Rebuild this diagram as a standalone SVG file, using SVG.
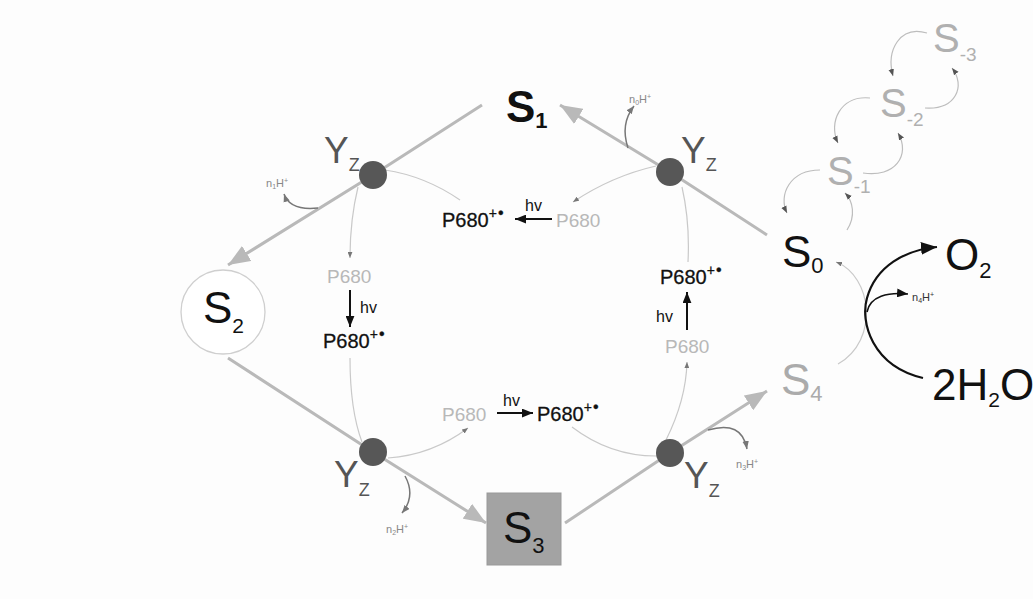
<svg xmlns="http://www.w3.org/2000/svg" width="1033" height="599" viewBox="0 0 1033 599">
<style>
text{font-family:"Liberation Sans",Arial,sans-serif}
.main{stroke:#b9b9b9;stroke-width:3;fill:none}
.thin{stroke:#c9c9c9;stroke-width:1.2;fill:none}
.hv{stroke:#111;stroke-width:2;fill:none}
.nh{stroke:#777;stroke-width:1.5;fill:none}
.sm{stroke:#bdbdbd;stroke-width:1.2;fill:none}
.dot{fill:#575757}
.yz{fill:#555;font-size:37px}
.p{fill:#b8b8b8;font-size:19px}
.pb{fill:#111;font-size:20px;stroke:#111;stroke-width:0.3}
.hvt{fill:#111;font-size:16px}
.nht{fill:#888;font-size:11px}
.s{fill:#111;font-size:44px}
.sg{fill:#b0b0b0;font-size:40px}
</style>
<defs>
<marker id="big" viewBox="0 0 20 16" refX="20" refY="8" markerWidth="22" markerHeight="18" markerUnits="userSpaceOnUse" orient="auto"><path d="M0,0 L20,8 L0,16 Z" fill="#b9b9b9"/></marker>
<marker id="tiny" viewBox="0 0 10 8" refX="10" refY="4" markerWidth="6" markerHeight="5" markerUnits="userSpaceOnUse" orient="auto"><path d="M0,0 L10,4 L0,8 Z" fill="#777"/></marker>
<marker id="blk" viewBox="0 0 10 8" refX="10" refY="4" markerWidth="11" markerHeight="9" markerUnits="userSpaceOnUse" orient="auto"><path d="M0,0 L10,4 L0,8 Z" fill="#111"/></marker>
<marker id="blkbig" viewBox="0 0 10 8" refX="10" refY="4" markerWidth="16" markerHeight="13" markerUnits="userSpaceOnUse" orient="auto"><path d="M0,0 L10,4 L0,8 Z" fill="#111"/></marker>
<marker id="nha" viewBox="0 0 10 8" refX="10" refY="4" markerWidth="8" markerHeight="7" markerUnits="userSpaceOnUse" orient="auto"><path d="M0,0 L10,4 L0,8 Z" fill="#777"/></marker>
<marker id="sma" viewBox="0 0 10 8" refX="10" refY="4" markerWidth="7" markerHeight="6" markerUnits="userSpaceOnUse" orient="auto"><path d="M0,0 L10,4 L0,8 Z" fill="#555"/></marker>
</defs>
<rect width="1033" height="599" fill="#fdfdfd"/>

<g id="connectors">
<path class="main" d="M767,235 L670,172 L560,105" marker-end="url(#big)"/>
<path class="main" d="M482,105 L373,175 L228,265" marker-end="url(#big)"/>
<path class="main" d="M228,358 L373,452 L486,523" marker-end="url(#big)"/>
<path class="main" d="M565,523 L670,453 L767,391" marker-end="url(#big)"/>
<path class="thin" d="M385,170 Q425,176 460,200"/>
<path class="thin" d="M358,187 Q350,220 350,258" marker-end="url(#tiny)"/>
<path class="thin" d="M656,166 Q612,176 573,202" marker-end="url(#tiny)"/>
<path class="thin" d="M682,187 Q690,222 688,262"/>
<path class="thin" d="M350,358 Q350,410 362,442"/>
<path class="thin" d="M388,458 Q432,455 468,428" marker-end="url(#tiny)"/>
<path class="thin" d="M666,440 Q686,400 687,362" marker-end="url(#tiny)"/>
<path class="thin" d="M572,427 Q610,456 656,456"/>
<path class="hv" d="M552,219 L515,219" marker-end="url(#blk)"/>
<path class="hv" d="M350,290 L350,327" marker-end="url(#blk)"/>
<path class="hv" d="M497,413 L533,413" marker-end="url(#blk)"/>
<path class="hv" d="M687,330 L687,292" marker-end="url(#blk)"/>
<path class="nh" d="M318,208 Q290,211 284,194" marker-end="url(#nha)"/>
<path class="nh" d="M628,148 Q620,124 634,106" marker-end="url(#nha)"/>
<path class="nh" d="M405,476 Q416,496 402,513" marker-end="url(#nha)"/>
<path class="nh" d="M708,430 Q742,420 747,449" marker-end="url(#nha)"/>
<path class="thin" d="M838,364 C880,340 872,276 836,262" marker-end="url(#tiny)"/>
<path stroke="#111" stroke-width="2.2" fill="none" d="M923,378 C872,366 860,322 867,298 C876,266 905,250 937,247" marker-end="url(#blkbig)"/>
<path stroke="#111" stroke-width="1.6" fill="none" d="M867,312 C870,296 888,292 908,294" marker-end="url(#blk)"/>
<path class="sm" d="M927,33 C900,25 886,50 893,76" marker-end="url(#sma)"/>
<path class="sm" d="M925,108 C956,110 966,86 952,68" marker-end="url(#sma)"/>
<path class="sm" d="M870,98 C840,95 828,123 838,143" marker-end="url(#sma)"/>
<path class="sm" d="M863,173 C895,178 911,155 898,133" marker-end="url(#sma)"/>
<path class="sm" d="M820,170 C790,170 778,195 787,213" marker-end="url(#sma)"/>
<path class="sm" d="M847,230 C856,216 853,201 845,193" marker-end="url(#sma)"/>
</g>

<g id="S1"><text class="s" x="506" y="122" font-weight="bold" font-size="46">S<tspan font-size="22" dy="6">1</tspan></text></g>
<g id="S2"><circle cx="223" cy="312" r="42" fill="#fff" stroke="#cfcfcf" stroke-width="1.3"/><text class="s" x="203" y="323" font-size="42">S<tspan font-size="21" dy="10">2</tspan></text></g>
<g id="S3"><rect x="487" y="493" width="74" height="72" fill="#a3a3a3" stroke="#999" stroke-width="1"/><text class="s" x="503" y="543" font-size="45">S<tspan font-size="22" dy="10">3</tspan></text></g>
<g id="S4"><text class="s" x="781" y="395" style="fill:#ababab">S<tspan font-size="22" dy="6">4</tspan></text></g>
<g id="S0"><text class="s" x="782" y="267" font-size="45">S<tspan font-size="22" dy="6">0</tspan></text></g>
<g id="Sm1"><text class="sg" x="827" y="185">S<tspan font-size="19" dy="8">-1</tspan></text></g>
<g id="Sm2"><text class="sg" x="880" y="117">S<tspan font-size="19" dy="9">-2</tspan></text></g>
<g id="Sm3"><text class="sg" x="933" y="52">S<tspan font-size="19" dy="9">-3</tspan></text></g>

<g id="Yz-TL"><circle class="dot" cx="373" cy="175" r="14"/><text class="yz" x="324" y="163">Y<tspan font-size="18" dy="8">Z</tspan></text></g>
<g id="Yz-TR"><circle class="dot" cx="670" cy="172" r="14"/><text class="yz" x="681" y="163">Y<tspan font-size="18" dy="8">Z</tspan></text></g>
<g id="Yz-BL"><circle class="dot" cx="373" cy="452" r="14"/><text class="yz" x="334" y="487">Y<tspan font-size="18" dy="9">Z</tspan></text></g>
<g id="Yz-BR"><circle class="dot" cx="670" cy="453" r="14"/><text class="yz" x="684" y="488">Y<tspan font-size="18" dy="9">Z</tspan></text></g>

<g id="P680-top">
<text class="pb" x="442" y="227">P680<tspan font-size="14" dy="-9">+</tspan><tspan font-size="16" dx="1">•</tspan></text>
<text class="hvt" x="525" y="211">hv</text>
<text class="p" x="556" y="227">P680</text>
</g>
<g id="P680-left">
<text class="p" x="327" y="283">P680</text>
<text class="hvt" x="360" y="313">hv</text>
<text class="pb" x="323" y="348">P680<tspan font-size="14" dy="-9">+</tspan><tspan font-size="16" dx="1">•</tspan></text>
</g>
<g id="P680-bottom">
<text class="p" x="442" y="421">P680</text>
<text class="hvt" x="503" y="406">hv</text>
<text class="pb" x="537" y="421">P680<tspan font-size="14" dy="-9">+</tspan><tspan font-size="16" dx="1">•</tspan></text>
</g>
<g id="P680-right">
<text class="pb" x="660" y="284">P680<tspan font-size="14" dy="-9">+</tspan><tspan font-size="16" dx="1">•</tspan></text>
<text class="hvt" x="656" y="322">hv</text>
<text class="p" x="665" y="353">P680</text>
</g>

<g id="protons">
<text class="nht" x="266" y="187">n<tspan font-size="7" dy="2">1</tspan><tspan dy="-2">H</tspan><tspan font-size="7" dy="-4">+</tspan></text>
<text class="nht" x="629" y="103">n<tspan font-size="7" dy="2">0</tspan><tspan dy="-2">H</tspan><tspan font-size="7" dy="-4">+</tspan></text>
<text class="nht" x="386" y="533">n<tspan font-size="7" dy="2">2</tspan><tspan dy="-2">H</tspan><tspan font-size="7" dy="-4">+</tspan></text>
<text class="nht" x="736" y="468">n<tspan font-size="7" dy="2">3</tspan><tspan dy="-2">H</tspan><tspan font-size="7" dy="-4">+</tspan></text>
<text class="nht" x="912" y="301" style="fill:#333">n<tspan font-size="7" dy="2">4</tspan><tspan dy="-2">H</tspan><tspan font-size="7" dy="-4">+</tspan></text>
</g>

<g id="O2"><text class="s" x="945" y="270" font-size="43">O<tspan font-size="22" dy="8">2</tspan></text></g>
<g id="H2O"><text class="s" x="932" y="400" font-size="43">2H<tspan font-size="21" dy="7">2</tspan><tspan dy="-7">O</tspan></text></g>
</svg>
